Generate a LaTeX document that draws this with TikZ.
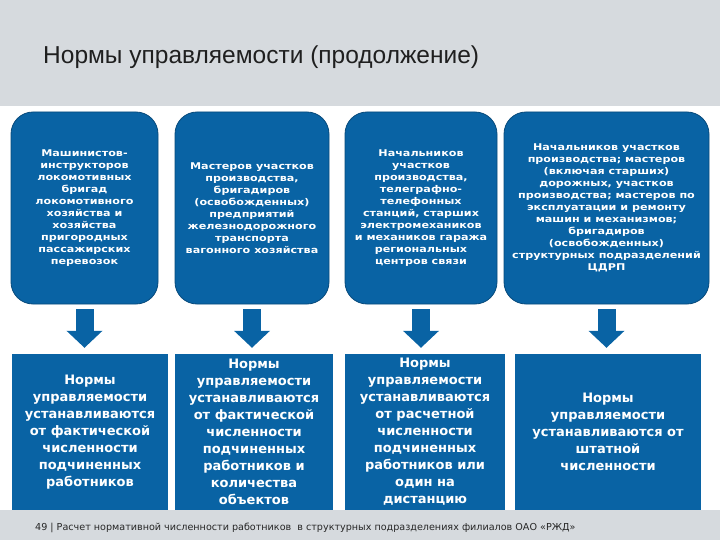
\documentclass[tikz,border=0pt]{standalone}
\usepackage{fontspec}
\setmainfont{DejaVu Sans}
\newfontfamily\titlefont{Liberation Sans}
\newfontfamily\smallfont[FakeStretch=1.2]{DejaVu Sans}
\usepackage{tikz}
\usetikzlibrary{positioning, arrows.meta, calc}
\definecolor{rzdblue}{RGB}{9,99,164}
\definecolor{slidegray}{RGB}{214,218,222}
\tikzset{
    catbox/.style={rectangle, rounded corners=22pt, fill=rzdblue, draw=rzdblue!75!black, line width=0.8pt, minimum height=192pt, inner sep=2pt, align=center, text=white, font=\smallfont\bfseries\fontsize{9.3}{12}\selectfont},
    normbox/.style={rectangle, fill=rzdblue, minimum height=156pt, inner sep=2pt, align=center, text=white, font=\bfseries\fontsize{13}{17}\selectfont},
    downarrow/.style={-{Triangle[length=17pt, width=35pt]}, line width=18pt, rzdblue, shorten <=5pt, shorten >=6pt}
}

\begin{document}
\begin{tikzpicture}[x=1pt, y=-1pt]
        \useasboundingbox (0,0) rectangle (720,540);
        % Header and footer bands
        \fill[slidegray] (0,0) rectangle (720,106);
        \node[anchor=base west, inner sep=0pt, font=\titlefont\fontsize{24.5}{28}\selectfont, text=black!88] (title) at (43,64) {Нормы управляемости (продолжение)};

        % Categories of managers
        \node[catbox, minimum width=147pt] (p1) at (84.5,208) {Машинистов-\\инструкторов\\локомотивных\\бригад\\локомотивного\\хозяйства и\\хозяйства\\пригородных\\пассажирских\\перевозок};
        \node[catbox, minimum width=154pt] (p2) at (252,208) {Мастеров участков\\производства,\\бригадиров\\(освобожденных)\\предприятий\\железнодорожного\\транспорта\\вагонного хозяйства};
        \node[catbox, minimum width=152pt] (p3) at (421,208) {Начальников\\участков\\производства,\\телеграфно-\\телефонных\\станций, старших\\электромехаников\\и механиков гаража\\региональных\\центров связи};
        \node[catbox, minimum width=205pt] (p4) at (606.5,208) {Начальников участков\\производства; мастеров\\(включая старших)\\дорожных, участков\\производства; мастеров по\\эксплуатации и ремонту\\машин и механизмов;\\бригадиров\\(освобожденных)\\структурных подразделений\\ЦДРП};

        % How the norms are set
        \node[normbox, minimum width=156pt] (n1) at (90,432) {Нормы\\управляемости\\устанавливаются\\от фактической\\численности\\подчиненных\\работников};
        \node[normbox, minimum width=158pt] (n2) at (254,432) {Нормы\\управляемости\\устанавливаются\\от фактической\\численности\\подчиненных\\работников и\\количества\\объектов};
        \node[normbox, minimum width=160pt] (n3) at (425,432) {Нормы\\управляемости\\устанавливаются\\от расчетной\\численности\\подчиненных\\работников или\\один на\\дистанцию};
        \node[normbox, minimum width=186pt] (n4) at (608,432) {Нормы\\управляемости\\устанавливаются от\\штатной\\численности};

        % Arrows
        \foreach \i in {1,...,4}
            \draw[downarrow] (p\i.south) -- (p\i.south |- n\i.north);

        \fill[slidegray] (0,510) rectangle (720,540);
        \node[anchor=base west, inner sep=0pt, font=\fontsize{9.6}{11}\selectfont, text=black!85] (foot) at (35,530) {49 | Расчет нормативной численности работников \ в структурных подразделениях филиалов ОАО «РЖД»};
    \end{tikzpicture}
\end{document}
